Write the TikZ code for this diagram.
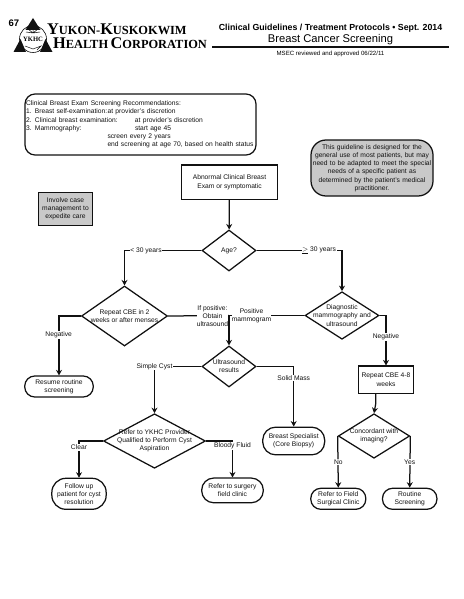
\documentclass[tikz,border=0pt]{standalone}
\usepackage{fontspec}
\setmainfont{Liberation Sans}
\newfontfamily\logofont{Liberation Serif}
\usetikzlibrary{arrows.meta,calc,shapes.geometric}
\definecolor{INK}{HTML}{111111}
\definecolor{SHADE}{HTML}{C9C9C9}
\newcommand{\capsm}[2]{{\fontsize{16.3}{16}\selectfont #1}{\fontsize{12.4}{16}\selectfont #2}}
\begin{document}
\begin{tikzpicture}[x=1pt,y=-1pt]
\tikzset{flow/.style={-{Stealth[length=5.5pt,width=6pt]},line width=1.25pt,INK},plain/.style={line width=1.25pt,INK},
 txt/.style={font=\fontsize{6.7}{8.2}\selectfont,align=center,text=INK},
 stepbox/.style={txt,draw=INK,line width=1.25pt,inner sep=0pt,minimum width=#1},
 endbox/.style={txt,draw=INK,line width=1.25pt,inner sep=0pt,rounded corners=10pt,minimum width=#1},
 lbl/.style={txt,fill=white,inner sep=0.6pt}}
\useasboundingbox (0,0) rectangle (463,599);
\node[font=\bfseries\fontsize{9.5}{10}\selectfont] (pagenum) at (14,23) {67};
\fill[INK] (33,18)--(25.5,30)--(40.5,30)--cycle (20.5,39)--(13.5,52)--(26,52)--cycle (45.5,39)--(52.5,52)--(40,52)--cycle;
\draw[INK,line width=0.6pt] (33,39) circle (13.5);
\draw[INK,line width=0.5pt] (33,33)--(33,27) (33,33)--(28,29) (33,33)--(38,29) (33,33)--(26,32) (33,33)--(40,32) (25,46)--(33,49)--(41,46)--(37,50);
\node[font=\logofont\bfseries\fontsize{6.6}{6}\selectfont,inner sep=0.5pt,fill=white] (ykhc) at (33,39) {YKHC};
\node[font=\logofont\bfseries,anchor=west,inner sep=0pt] (yukon) at (47,29) {\capsm{Y}{UKON-}\capsm{K}{USKOKWIM}};
\node[font=\logofont\bfseries,anchor=west,inner sep=0pt] (health) at (53,43) {\capsm{H}{EALTH} \capsm{C}{ORPORATION}};
\node[font=\bfseries\fontsize{8.8}{9}\selectfont,inner sep=0pt] (guide) at (330.5,28) {Clinical Guidelines / Treatment Protocols • Sept. 2014};
\node[font=\fontsize{11.2}{11}\selectfont,inner sep=0pt] (title) at (330.5,40) {Breast Cancer Screening};
\draw[line width=1.4pt,INK] (212,47)--(449,47);
\node[font=\fontsize{6.1}{6}\selectfont,inner sep=0pt] (msec) at (330.5,53.5) {MSEC reviewed and approved 06/22/11};
\node[txt,draw=INK,line width=1.25pt,rounded corners=10pt,align=left,text width=229pt,minimum height=61pt,inner xsep=1pt,inner ysep=0pt] (recs) at (140.5,124.5) {Clinical Breast Exam Screening Recommendations:\\
1. Breast self-examination:\hspace{0.5pt}at provider's discretion\\
\makebox[109pt][l]{2. Clinical breast examination:}at provider's discretion\\
\makebox[109pt][l]{3. Mammography:}start age 45\\
\hspace*{81.5pt}screen every 2 years\\
\hspace*{81.5pt}\mbox{end screening at age 70, based on health status}};
\node[txt,draw=INK,fill=SHADE,line width=1.25pt,rounded corners=15pt,text width=122pt,minimum height=56pt,inner sep=0pt] (note) at (372,168) {This guideline is designed for the\\general use of most patients, but may\\need to be adapted to meet the special\\needs of a specific patient as\\determined by the patient's medical\\practitioner.};
\node[stepbox=54pt,fill=SHADE,minimum height=32.5pt] (casemgmt) at (65.5,209) {Involve case\\management to\\expedite care};
\node[stepbox=95.5pt,minimum height=34.5pt] (abnormal) at (229.5,182.3) {Abnormal Clinical Breast\\Exam or symptomatic};
\node[stepbox=54.3pt,minimum height=27.3pt] (repeat48) at (386,379.7) {Repeat CBE 4-8\\weeks};
\tikzset{dec/.style args={#1/#2/#3}{diamond,draw=INK,line width=1.25pt,inner sep=0pt,minimum width=#1,minimum height=#2,label={[txt,inner sep=0pt]center:{#3}}}}
\node[dec={54pt/41pt/Age?}] (age) at (229,250.5) {};
\node[dec={86pt/60pt/{Repeat CBE in 2\\weeks or after menses}}] (cbe) at (124.5,316) {};
\node[dec={74pt/47.5pt/{Diagnostic\\mammography and\\ultrasound}}] (diag) at (342,315.5) {};
\node[dec={54pt/41pt/{Ultrasound\\results}}] (ultra) at (229,366.5) {};
\node[dec={102pt/54.5pt/{Refer to YKHC Provider\\Qualified to Perform Cyst\\Aspiration}}] (provider) at (154.5,441) {};
\node[dec={71.4pt/44.5pt/{Concordant with\\imaging?}}] (concord) at (374,436) {};
\node[endbox=68.5pt,minimum height=21pt] (resume) at (59,386.5) {Resume routine\\screening};
\node[endbox=62pt,minimum height=27.7pt,rounded corners=13pt] (breast) at (293.7,441) {Breast Specialist\\(Core Biopsy)};
\node[endbox=54.3pt,minimum height=31pt,rounded corners=14pt] (followup) at (79,493.8) {Follow up\\patient for cyst\\resolution};
\node[endbox=61.6pt,minimum height=24.7pt,rounded corners=12pt] (surgery) at (232.5,490.4) {Refer to surgery\\field clinic};
\node[endbox=55pt,minimum height=21pt] (field) at (338.3,498.8) {Refer to Field\\Surgical Clinic};
\node[endbox=54.4pt,minimum height=21pt] (routine) at (409.7,498.8) {Routine\\Screening};
\coordinate (mrg) at (229,315.5);
\coordinate (rptout) at (375.7,393.3);
\coordinate (rptbend) at (375.7,404);
\draw[flow] (abnormal) -- (age);
\draw[flow] (age.west) -| (cbe.north);
\draw[flow] (age.east) -| (diag.north);
\draw[plain] (cbe.east) -- (mrg);
\draw[flow] (diag.west) -- (mrg) -- (ultra.north);
\draw[flow] (cbe.west) -| (resume.north);
\draw[flow] (diag.east) -| (repeat48.north);
\draw[flow] (ultra.west) -| (provider.north);
\draw[flow] (ultra.east) -| (breast.north);
\draw[flow] (provider.west) -| (followup.north);
\draw[flow] (provider.east) -| (surgery.north);
\draw[flow] (rptout) -- (rptbend) -- (concord.north);
\draw[flow] (concord.west) -- (field.north);
\draw[flow] (concord.east) -- (routine.north);
\node[lbl] (lt30) at (146,250.5) {< 30 years};
\node[lbl] (ge30) at (319,250.5) {$\underline{>}$ 30 years};
\node[lbl,inner xsep=0pt] (ifpos) at (212.5,316) {If positive:\\Obtain\\ultrasound};
\node[lbl,inner xsep=0pt] (posmam) at (251.5,315.5) {Positive\\mammogram};
\node[lbl] (negl) at (58.7,335) {Negative};
\node[lbl] (negr) at (386,337) {Negative};
\node[lbl] (cyst) at (154.5,366.5) {Simple Cyst};
\node[lbl] (solid) at (293.7,378) {Solid Mass};
\node[lbl] (clear) at (79,447.5) {Clear};
\node[lbl] (bloody) at (232.5,446) {Bloody Fluid};
\node[lbl] (no) at (338.3,462) {No};
\node[lbl] (yes) at (409.7,462) {Yes};
\end{tikzpicture}
\end{document}
